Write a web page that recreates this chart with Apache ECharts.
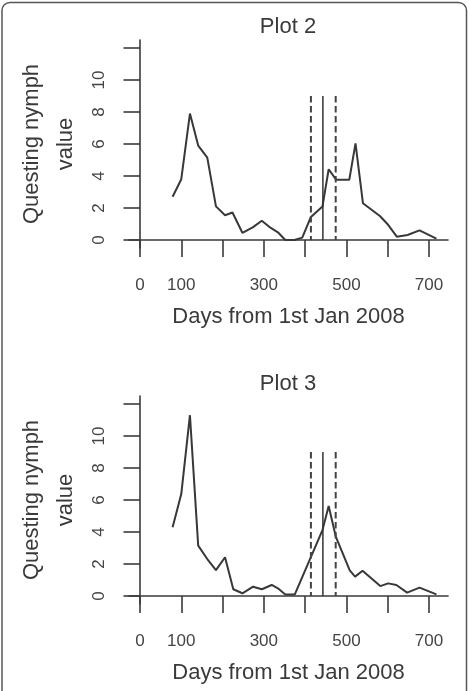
<!DOCTYPE html>
<html>
<head>
<meta charset="utf-8">
<script src="https://cdn.jsdelivr.net/npm/echarts@6/dist/echarts.min.js"></script>
<style>
  html, body { margin: 0; padding: 0; background: #fff; }
  #container { width: 469px; height: 691px; }
</style>
</head>
<body>
<div id="container"></div>
<script>
// Plot 2 samples (day, questing nymph value)
var days2 = [79, 100, 121, 141, 163, 184, 206, 224, 248, 273, 295, 316, 334, 352, 374, 393, 414, 442, 457, 475, 507, 522, 540, 581, 601, 622, 648, 677, 718];
var nymph2 = [2.7, 3.8, 7.9, 5.9, 5.15, 2.1, 1.55, 1.72, 0.45, 0.79, 1.2, 0.77, 0.48, 0, 0, 0.15, 1.44, 2.1, 4.42, 3.77, 3.77, 6.04, 2.3, 1.5, 0.95, 0.21, 0.31, 0.6, 0.08];

// Plot 3 samples
var days3 = [79, 100, 121, 141, 163, 184, 206, 226, 248, 274, 295, 319, 334, 352, 375, 442, 457, 474, 508, 521, 539, 582, 601, 621, 647, 677, 718];
var nymph3 = [4.3, 6.37, 11.3, 3.15, 2.31, 1.62, 2.42, 0.42, 0.17, 0.58, 0.42, 0.69, 0.48, 0.1, 0.1, 4.12, 5.62, 3.73, 1.6, 1.21, 1.58, 0.62, 0.79, 0.69, 0.21, 0.52, 0.1];

// vertical reference lines: dashed, solid, dashed
var vlineDays = [414, 443, 474];
var vlineTop = 9;

var xTicks = [0, 100, 200, 300, 400, 500, 600, 700];
var xLabels = [0, 100, 300, 500, 700];
var yTicks = [0, 2, 4, 6, 8, 10, 12];
var yLabels = [0, 2, 4, 6, 8, 10];

var titles = ['Plot 2', 'Plot 3'];
var xName = 'Days from 1st Jan 2008';
var yName = 'Questing nymph\nvalue';

var font = 'Liberation Sans, Arial, Helvetica, sans-serif';
var ink = '#3a3a3a';

function xAxisFor(idx) {
    return {
        type: 'value', gridIndex: idx,
        min: -26.6, max: 746,
        name: xName, nameLocation: 'middle', nameGap: 58,
        nameTextStyle: { fontSize: 22, color: ink, fontFamily: font },
        axisLine: { show: true, lineStyle: { color: ink, width: 1.6 } },
        axisTick: { show: true, length: 17, customValues: xTicks, lineStyle: { color: ink, width: 1.6 } },
        axisLabel: { customValues: xLabels, margin: 29, fontSize: 17, color: '#444', fontFamily: font },
        splitLine: { show: false }
    };
}

function yAxisFor(idx) {
    return {
        type: 'value', gridIndex: idx,
        min: -0.5, max: 12.5,
        name: yName, nameLocation: 'middle', nameGap: 45,
        nameTextStyle: { fontSize: 22, lineHeight: 34, color: ink, fontFamily: font },
        axisLine: { show: true, lineStyle: { color: ink, width: 1.6 } },
        axisTick: { show: true, length: 16.5, customValues: yTicks, lineStyle: { color: ink, width: 1.6 } },
        axisLabel: { customValues: yLabels, rotate: 90, margin: 21.5, fontSize: 17, color: '#444', fontFamily: font },
        splitLine: { show: false }
    };
}

function seriesFor(idx, days, vals) {
    var out = [{
        type: 'line', xAxisIndex: idx, yAxisIndex: idx,
        data: days.map(function (d, i) { return [d, vals[i]]; }),
        showSymbol: false, silent: true,
        lineStyle: { color: '#383838', width: 2 }
    }];
    vlineDays.forEach(function (d, i) {
        out.push({
            type: 'line', xAxisIndex: idx, yAxisIndex: idx,
            data: [[d, vlineTop], [d, 0]],
            showSymbol: false, silent: true,
            lineStyle: i === 1 ? { color: '#333', width: 1.5 } : { color: '#444', width: 2, type: [6.5, 3.5] }
        });
    });
    return out;
}

var myChart = echarts.init(document.getElementById('container'), null, { renderer: 'canvas' });

var option = {
    animation: false,
    backgroundColor: '#fff',
    textStyle: { fontFamily: font },
    title: [
        { text: titles[0], left: 288, top: 16, padding: 0, textAlign: 'center',
          textStyle: { fontSize: 22, fontWeight: 'normal', color: ink, fontFamily: font } },
        { text: titles[1], left: 288, top: 372.5, padding: 0, textAlign: 'center',
          textStyle: { fontSize: 22, fontWeight: 'normal', color: ink, fontFamily: font } }
    ],
    grid: [
        { left: 129, top: 40, width: 319, height: 208, containLabel: false, outerBoundsMode: 'none' },
        { left: 129, top: 396, width: 319, height: 208, containLabel: false, outerBoundsMode: 'none' }
    ],
    xAxis: [xAxisFor(0), xAxisFor(1)],
    yAxis: [yAxisFor(0), yAxisFor(1)],
    series: seriesFor(0, days2, nymph2).concat(seriesFor(1, days3, nymph3)),
    graphic: [{
        type: 'rect', silent: true,
        shape: { x: 2, y: 2.5, width: 464.5, height: 730, r: 8 },
        style: { fill: 'none', stroke: '#555', lineWidth: 1.5 }
    }]
};

myChart.setOption(option);
</script>
</body>
</html>
